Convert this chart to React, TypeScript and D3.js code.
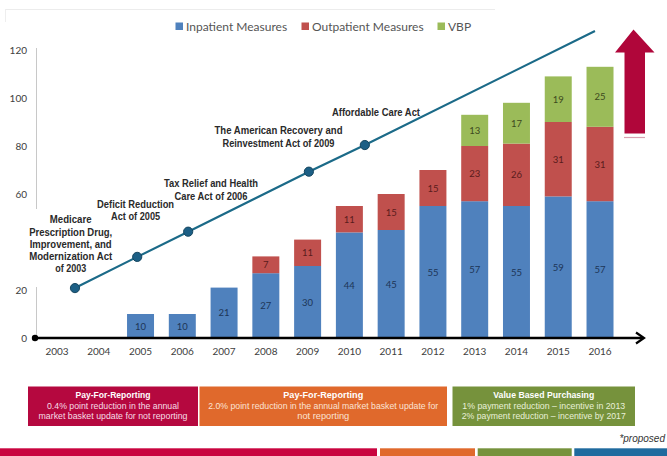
import React from "react";
import * as d3 from "d3";

const years = ["2003","2004","2005","2006","2007","2008","2009","2010","2011","2012","2013","2014","2015","2016"];
const inpatient = [0,0,10,10,21,27,30,44,45,55,57,55,59,57];
const outpatient = [0,0,0,0,0,7,11,11,15,15,23,26,31,31];
const vbp = [0,0,0,0,0,0,0,0,0,0,13,17,19,25];
const yTickValues = [0,20,40,60,80,100,120];
const seriesNames = ["Inpatient Measures","Outpatient Measures","VBP"];

// Legislation trend line (time position, height)
const actYears = [2003.43, 2004.92, 2006.14, 2009.03, 2010.37];
const actValues = [20.8, 33.8, 44.3, 69.3, 80.4];
const lineEnd = { year: 2015.88, value: 127.9 };

const actLabels = [
  ["Medicare", "Prescription Drug,", "Improvement, and", "Modernization Act", "of 2003"],
  ["Deficit Reduction", "Act of 2005"],
  ["Tax Relief and Health", "Care Act of 2006"],
  ["The American Recovery and", "Reinvestment Act of 2009"],
  ["Affordable Care Act"],
];

const boxTitles = ["Pay-For-Reporting", "Pay-For-Reporting", "Value Based Purchasing"];
const boxLines = [
  ["0.4% point reduction in the annual", "market basket update for not reporting"],
  ["2.0% point reduction in the annual market basket update for", "not reporting"],
  ["1% payment reduction \u2013 incentive  in 2013", "2% payment reduction \u2013 incentive by 2017"],
];

const COLORS = ["#4F81BD", "#C0504D", "#9BBB59"];
const LABEL_COLORS = ["#1d3557", "#5a1c1c", "#3d4a1e"];

export default function App() {
  const x = d3.scaleBand<string>().domain(years).range([36.1, 620.9]).paddingInner(0.354).paddingOuter(0.177);
  const y = d3.scaleLinear().domain([0, 120]).range([338, 50]);
  const xYear = d3.scaleLinear().domain([2003, 2016]).range([57, 600]);

  const stackData = years.map((yr, i) => ({ year: yr, a: inpatient[i], b: outpatient[i], c: vbp[i] }));
  const stacked = d3.stack<any>().keys(["a", "b", "c"])(stackData);

  const linePts: [number, number][] = actYears.map((yr, i) => [xYear(yr), y(actValues[i])]);
  const fullLine = [...linePts, [xYear(lineEnd.year), y(lineEnd.value)] as [number, number]];
  const lineGen = d3.line();

  const annFont = "'Liberation Sans Narrow', 'Liberation Sans', Arial, sans-serif";
  const annColor = "#2a2a2a";
  const annLayout = [
    { cx: 70.7, y0: 219.3, dy: 12.2, widths: [41.7, 83, 82, 83, 31] },
    { cx: 135.6, y0: 203.6, dy: 12.2, widths: [77, 49] },
    { cx: 211, y0: 183.4, dy: 12.2, widths: [94, 73] },
    { cx: 278.5, y0: 130, dy: 12.7, widths: [128, 112] },
    { cx: 376, y0: 111.7, dy: 12, widths: [88] },
  ];

  const boxes = [
    { x0: 28, x1: 198, fill: "#B5083F", textFill: "#f6dde5" },
    { x0: 199.5, x1: 447, fill: "#E0692C", textFill: "#fbe3d4" },
    { x0: 452.5, x1: 635, fill: "#76923C", textFill: "#e8f0d8" },
  ];
  const boxTitleWidths = [75, 80, 101];
  const boxLineWidths = [[132, 149], [230, 52], [163, 164]];

  const legendX = [175.5, 301.5, 437.5];

  return (
    <svg width={667} height={456} style={{ position: "fixed", left: 0, top: 0, background: "#fff" }}
      fontFamily="'Liberation Sans', Arial, sans-serif">
      <rect x={0} y={0} width={667} height={456} fill="#fff" />
      {/* faint frame */}
      <line x1={5} x2={495} y1={9.5} y2={9.5} stroke="#ececec" strokeWidth={1} />
      <line x1={5.5} x2={5.5} y1={9} y2={22} stroke="#eeeeee" strokeWidth={1} />

      {/* legend */}
      {seriesNames.map((n, i) => (
        <g key={n}>
          <rect x={legendX[i]} y={22.5} width={7.5} height={7.5} fill={COLORS[i]} />
          <text x={legendX[i] + 10.5} y={30.5} fontSize={12} fill="#555" fontFamily="Lato, 'Open Sans', sans-serif">{n}</text>
        </g>
      ))}

      {/* y axis */}
      <line x1={36.5} x2={36.5} y1={y(120) - 2} y2={y(0)} stroke="#c8c8c8" strokeWidth={1} />
      {yTickValues.map(t => (
        <text key={t} x={27} y={y(t) + 3.5} textAnchor="end" fontSize={10} fill="#404040"
          fontFamily="Lato, 'Open Sans', sans-serif">{t}</text>
      ))}

      {/* bars */}
      {stacked.map((layer, si) => (
        <g key={si}>
          {layer.map((d: any, i: number) => {
            const v = d[1] - d[0];
            if (v <= 0) return null;
            const yr = years[i];
            const top = y(d[1]);
            const bot = y(d[0]);
            return (
              <g key={yr}>
                <rect x={x(yr)} y={top} width={x.bandwidth()} height={bot - top} fill={COLORS[si]} />
                <text x={(x(yr) as number) + x.bandwidth() / 2} y={(top + bot) / 2 + 3.5} textAnchor="middle"
                  fontSize={9.5} fill={LABEL_COLORS[si]} fontFamily="Lato, 'Open Sans', sans-serif">{v}</text>
              </g>
            );
          })}
        </g>
      ))}

      {/* x axis */}
      <line x1={35} x2={643} y1={y(0)} y2={y(0)} stroke="#000" strokeWidth={2.5} />
      <circle cx={35} cy={y(0)} r={3.2} fill="#000" />
      <path d={`M636,${y(0) - 5.5} L644,${y(0)} L636,${y(0) + 5.5}`} fill="none" stroke="#000" strokeWidth={2.2} />
      {years.map(yr => (
        <text key={yr} x={(x(yr) as number) + x.bandwidth() / 2} y={y(0) + 17} textAnchor="middle" fontSize={10}
          fill="#404040" fontFamily="Lato, 'Open Sans', sans-serif">{yr}</text>
      ))}

      {/* white box behind Medicare label (hides part of axis) */}
      <rect x={12} y={209} width={104} height={78} fill="#fff" />

      {/* trend line */}
      <path d={lineGen(fullLine) as string} fill="none" stroke="#1B6A88" strokeWidth={2.2} />
      {linePts.map((p, i) => (
        <circle key={i} cx={p[0]} cy={p[1]} r={4.6} fill="#1C5F85" stroke="#16465f" strokeWidth={1} />
      ))}

      {/* annotations */}
      {actLabels.map((lines, ai) => {
        const L = annLayout[ai];
        return (
          <g key={ai}>
            {lines.map((ln, li) => (
              <text key={li} x={L.cx} y={L.y0 + li * L.dy + 4} textAnchor="middle" fontSize={10.9} fontWeight="bold"
                fill={annColor} fontFamily={annFont} textLength={L.widths[li]} lengthAdjust="spacingAndGlyphs">{ln}</text>
            ))}
          </g>
        );
      })}

      {/* red arrow */}
      <path d="M633.5,29.5 L654.5,52.5 L645,52.5 L645,133.5 L624.5,133.5 L624.5,52.5 L615,52.5 Z" fill="#B0063A" />
      <line x1={624} x2={645} y1={137.5} y2={137.5} stroke="#d8a0b0" strokeWidth={1.2} />

      {/* policy boxes */}
      {boxes.map((b, i) => {
        const cx = (b.x0 + b.x1) / 2;
        return (
          <g key={i}>
            <rect x={b.x0} y={386.5} width={b.x1 - b.x0} height={39.5} fill={b.fill} />
            <text x={cx} y={398.3} textAnchor="middle" fontSize={9.5} fontWeight="bold" fill="#fff"
              textLength={boxTitleWidths[i]} lengthAdjust="spacingAndGlyphs">{boxTitles[i]}</text>
            {boxLines[i].map((ln, li) => (
              <text key={li} x={cx} y={408.8 + li * 10.5} textAnchor="middle" fontSize={9} fill={b.textFill}
                textLength={boxLineWidths[i][li]} lengthAdjust="spacingAndGlyphs">{ln}</text>
            ))}
          </g>
        );
      })}

      <text x={665} y={441.5} textAnchor="end" fontSize={10} fontStyle="italic" fill="#333">*proposed</text>

      {/* bottom strip */}
      <rect x={0} y={448.3} width={377} height={8} fill="#C9043F" />
      <rect x={380} y={448.3} width={95} height={8} fill="#E0692C" />
      <rect x={477.7} y={448.3} width={94} height={8} fill="#76923C" />
      <rect x={574.3} y={448.3} width={93} height={8} fill="#1F6A9E" />
    </svg>
  );
}
